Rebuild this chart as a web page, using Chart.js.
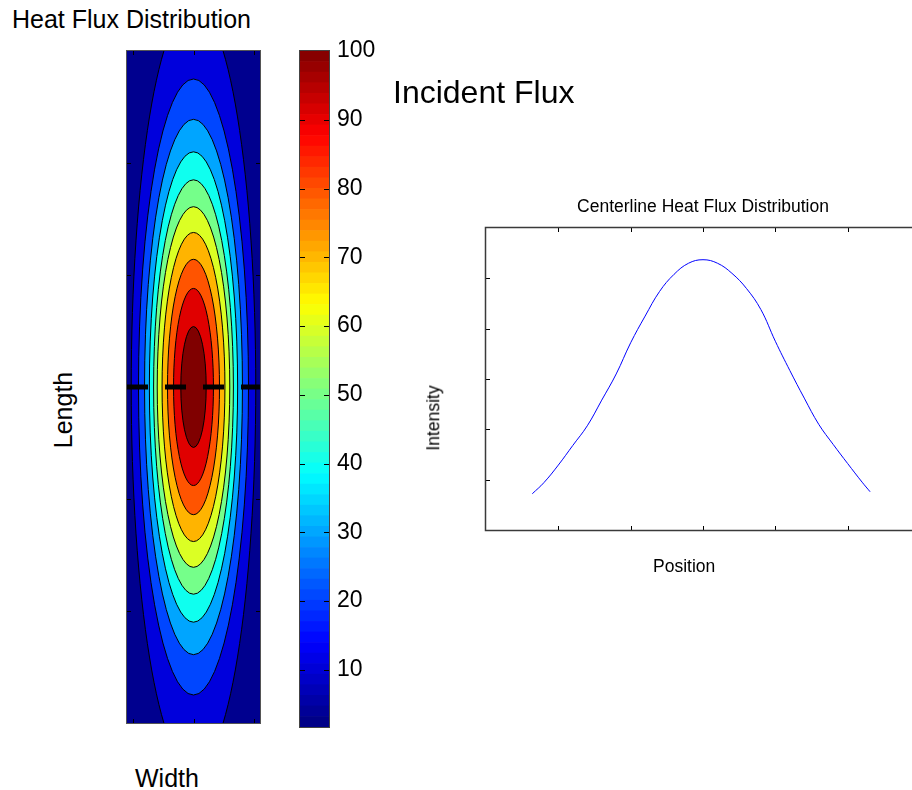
<!DOCTYPE html>
<html>
<head>
<meta charset="utf-8">
<title>Heat Flux Distribution</title>
<script src="https://cdn.jsdelivr.net/npm/chart.js@4"></script>
<style>
  html, body { margin: 0; padding: 0; background: #fff; overflow: hidden; }
  #page { position: relative; width: 912px; height: 790px; overflow: hidden; background: #fff;
          font-family: 'Liberation Sans', Arial, sans-serif; color: #000; }
  #page canvas { position: absolute; }
  .lbl { position: absolute; white-space: nowrap; line-height: 1; }
</style>
</head>
<body>
<div id="page">
  <canvas id="contour" width="147" height="686" style="left:120px; top:44px;"></canvas>
  <canvas id="cbar" width="110" height="790" style="left:290px; top:0;"></canvas>
  <canvas id="profile" width="530" height="360" style="left:430px; top:200px;"></canvas>

  <div class="lbl" style="left:12px; top:7px; font-size:25px;">Heat Flux Distribution</div>
  <div class="lbl" style="left:63px; top:410px; font-size:25px; transform:translate(-50%,-50%) rotate(-90deg);">Length</div>
  <div class="lbl" style="left:135px; top:766px; font-size:25px;">Width</div>
  <div class="lbl" style="left:393px; top:76px; font-size:32px;">Incident Flux</div>
  <div class="lbl" style="left:703px; top:198px; font-size:17.5px; transform:translateX(-50%);">Centerline Heat Flux Distribution</div>
  <div class="lbl" style="left:434px; top:418px; font-size:17.5px; transform:translate(-50%,-50%) rotate(-90deg);">Intensity</div>
  <div class="lbl" style="left:653px; top:558px; font-size:17.5px;">Position</div>
</div>

<script>
(function () {
  'use strict';

  Chart.defaults.font.family = "'Liberation Sans', Arial, sans-serif";
  Chart.defaults.color = '#000';

  // ---- contour map (axis units: Width 0..2.2, Length 0..6) ----
  var WIDTH_RANGE = [0, 2.2];
  var LENGTH_RANGE = [0, 6];
  var WIDTH_TICKS = [0.1, 1.1, 2.1];
  var LENGTH_TICKS = [1, 2, 3, 4, 5];
  var PEAK_AT = [1.1, 3.0];
  var CUT_LENGTH = 3.0;   // dashed centerline
  // contour lines at 10, 20, ... 100, outermost first
  var LEVELS = [10, 20, 30, 40, 50, 60, 70, 80, 90, 100];
  var LEVEL_HALF_WIDTH  = [1.03, 0.91, 0.81, 0.73, 0.66, 0.60, 0.52, 0.43, 0.33, 0.21];
  var LEVEL_HALF_LENGTH = [3.41, 2.75, 2.39, 2.10, 1.85, 1.61, 1.38, 1.14, 0.88, 0.54];
  var BAND_COLORS = ['#00008f', '#0000dc', '#0046ff', '#00a5ff', '#0fffef', '#75ff8a',
                     '#dbff24', '#ffb400', '#ff5400', '#e00000', '#800000'];

  // ---- colour bar ----
  var CBAR_RANGE = [1.7, 100];
  var CBAR_TICKS = [10, 20, 30, 40, 50, 60, 70, 80, 90, 100];
  var CBAR_STEPS = 64;

  // ---- centerline profile ----
  var POSITION  = [0.64, 0.8, 1.0, 1.2, 1.4, 1.6, 1.8, 2.0, 2.2, 2.4, 2.6, 2.8, 3.0,
                   3.2, 3.4, 3.6, 3.8, 4.0, 4.2, 4.4, 4.6, 4.8, 5.0, 5.2, 5.31];
  var INTENSITY = [0.72, 0.94, 1.29, 1.68, 2.07, 2.58, 3.10, 3.72, 4.25, 4.74, 5.08, 5.30, 5.37,
                   5.30, 5.10, 4.80, 4.38, 3.75, 3.17, 2.62, 2.10, 1.70, 1.32, 0.95, 0.76];
  var POS_RANGE = [0, 6];
  var INT_RANGE = [0, 6];
  var POS_TICKS = [1, 2, 3, 4, 5];
  var INT_TICKS = [1, 2, 3, 4, 5];

  function jet(t) {
    function c(v) { return Math.round(255 * Math.max(0, Math.min(1, v))); }
    return 'rgb(' + c(1.5 - Math.abs(4 * t - 3)) + ',' + c(1.5 - Math.abs(4 * t - 2)) + ',' +
      c(1.5 - Math.abs(4 * t - 1)) + ')';
  }

  // filled contour bands drawn under the datasets
  var contourFill = {
    id: 'contourFill',
    beforeDatasetsDraw: function (chart) {
      var a = chart.chartArea, ctx = chart.ctx, xs = chart.scales.x, ys = chart.scales.y;
      var cx = xs.getPixelForValue(PEAK_AT[0]), cy = ys.getPixelForValue(PEAK_AT[1]);
      ctx.save();
      ctx.beginPath();
      ctx.rect(a.left, a.top, a.right - a.left, a.bottom - a.top);
      ctx.clip();
      ctx.fillStyle = BAND_COLORS[0];
      ctx.fillRect(a.left, a.top, a.right - a.left, a.bottom - a.top);
      LEVELS.forEach(function (lvl, i) {
        var rx = xs.getPixelForValue(PEAK_AT[0] + LEVEL_HALF_WIDTH[i]) - cx;
        var ry = cy - ys.getPixelForValue(PEAK_AT[1] + LEVEL_HALF_LENGTH[i]);
        ctx.beginPath();
        ctx.ellipse(cx, cy, rx, ry, 0, 0, Math.PI * 2);
        ctx.fillStyle = BAND_COLORS[i + 1];
        ctx.fill();
        ctx.lineWidth = 1;
        ctx.strokeStyle = '#000';
        ctx.stroke();
      });
      ctx.restore();
    }
  };

  // box around the plot + short inward ticks
  var frameTicks = {
    id: 'frameTicks',
    afterDraw: function (chart, args, o) {
      var a = chart.chartArea, ctx = chart.ctx;
      var xs = chart.scales.x, ys = chart.scales.y;
      ctx.save();
      ctx.strokeStyle = o.tickColor || '#000';
      ctx.lineWidth = 1;
      ctx.beginPath();
      (o.xTicks || []).forEach(function (v) {
        var px = Math.round(xs.getPixelForValue(v)) + 0.5;
        ctx.moveTo(px, a.bottom); ctx.lineTo(px, a.bottom - o.len);
        ctx.moveTo(px, a.top); ctx.lineTo(px, a.top + o.len);
      });
      (o.yTicks || []).forEach(function (v) {
        var py = Math.round(ys.getPixelForValue(v)) + 0.5;
        ctx.moveTo(a.left, py); ctx.lineTo(a.left + o.len, py);
        ctx.moveTo(a.right, py); ctx.lineTo(a.right - o.len, py);
      });
      ctx.stroke();
      ctx.strokeStyle = o.color;
      ctx.lineWidth = o.width;
      ctx.strokeRect(a.left - 0.5, a.top - 0.5, a.right - a.left + 1, a.bottom - a.top + 1);
      ctx.restore();
    }
  };

  // Contour map
  new Chart(document.getElementById('contour'), {
    type: 'line',
    data: {
      datasets: [{
        data: [{ x: WIDTH_RANGE[0], y: CUT_LENGTH }, { x: WIDTH_RANGE[1], y: CUT_LENGTH }],
        borderColor: '#000',
        borderWidth: 5,
        borderDash: [21, 17],
        borderCapStyle: 'butt',
        pointRadius: 0,
        fill: false
      }]
    },
    options: {
      responsive: false,
      animation: false,
      events: [],
      layout: { padding: 7 },
      plugins: {
        legend: { display: false },
        tooltip: { enabled: false },
        frameTicks: { xTicks: WIDTH_TICKS, yTicks: LENGTH_TICKS, len: 4, color: '#555', width: 1 }
      },
      scales: {
        x: { type: 'linear', display: false, min: WIDTH_RANGE[0], max: WIDTH_RANGE[1] },
        y: { type: 'linear', display: false, min: LENGTH_RANGE[0], max: LENGTH_RANGE[1] }
      }
    },
    plugins: [contourFill, frameTicks]
  });

  // Colour bar: one floating bar per colormap step
  var cbarSets = [];
  var step = (CBAR_RANGE[1] - CBAR_RANGE[0]) / CBAR_STEPS;
  for (var i = 0; i < CBAR_STEPS; i++) {
    var lo = CBAR_RANGE[0] + i * step;
    cbarSets.push({
      data: [[lo, lo + step]],
      backgroundColor: jet((i + 0.5) / CBAR_STEPS),
      borderWidth: 0,
      barPercentage: 1,
      categoryPercentage: 1,
      grouped: false
    });
  }

  new Chart(document.getElementById('cbar'), {
    type: 'bar',
    data: { labels: ['flux'], datasets: cbarSets },
    options: {
      responsive: false,
      animation: false,
      events: [],
      layout: { padding: { left: 10, top: 51, bottom: 63, right: 0 } },
      plugins: {
        legend: { display: false },
        tooltip: { enabled: false },
        frameTicks: { yTicks: CBAR_TICKS.slice(0, -1), len: 5, color: '#444', width: 1 }
      },
      scales: {
        x: { display: false },
        y: {
          position: 'right',
          min: CBAR_RANGE[0],
          max: CBAR_RANGE[1],
          afterBuildTicks: function (s) { s.ticks = CBAR_TICKS.map(function (v) { return { value: v }; }); },
          afterFit: function (s) { s.width = 71; },
          grid: { display: false, drawTicks: false },
          border: { display: false },
          ticks: { color: '#000', font: { size: 23 }, padding: 8 }
        }
      }
    },
    plugins: [frameTicks]
  });

  // Centerline profile
  new Chart(document.getElementById('profile'), {
    type: 'line',
    data: {
      datasets: [{
        data: POSITION.map(function (x, i) { return { x: x, y: INTENSITY[i] }; }),
        borderColor: '#0000ff',
        borderWidth: 1,
        pointRadius: 0,
        tension: 0.4,
        fill: false
      }]
    },
    options: {
      responsive: false,
      animation: false,
      events: [],
      layout: { padding: { left: 56, top: 28, right: 40, bottom: 30 } },
      plugins: {
        legend: { display: false },
        tooltip: { enabled: false },
        frameTicks: { xTicks: POS_TICKS, yTicks: INT_TICKS, len: 4, color: '#3a3a3a', width: 1.5 }
      },
      scales: {
        x: { type: 'linear', display: false, min: POS_RANGE[0], max: POS_RANGE[1] },
        y: { type: 'linear', display: false, min: INT_RANGE[0], max: INT_RANGE[1] }
      }
    },
    plugins: [frameTicks]
  });
})();
</script>
</body>
</html>
